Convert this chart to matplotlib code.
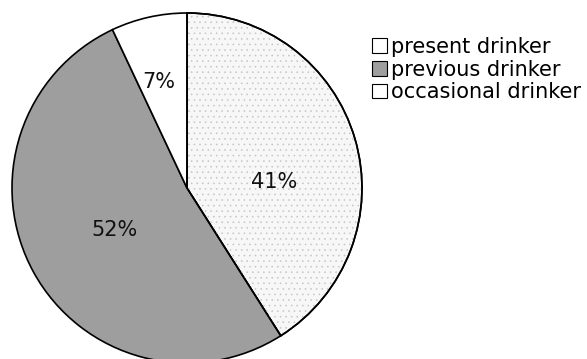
import matplotlib
matplotlib.use("Agg")
import matplotlib.pyplot as plt
from matplotlib.patches import Wedge
import numpy as np

categories = ["present drinker", "previous drinker", "occasional drinker"]
values = [41, 52, 7]
colors = ["#f7f7f7", "#9e9e9e", "#ffffff"]
hatches = ["...", None, None]

plt.rcParams['font.family'] = ['DejaVu Sans']
plt.rcParams['hatch.linewidth'] = 0.4

fig = plt.figure(figsize=(5.87, 3.59), dpi=100)
ax = fig.add_axes([0, 0, 1, 1])

wedges, texts, autotexts = ax.pie(values, colors=colors, startangle=90, counterclock=False,
                                  autopct='%d%%', pctdistance=0.5,
                                  wedgeprops=dict(edgecolor='black', linewidth=1.2),
                                  textprops=dict(fontsize=15, color='#111111'))
# light dotted texture overlay
for w, h in zip(wedges, hatches):
    if h:
        ov = Wedge(w.center, w.r, w.theta1, w.theta2, facecolor='none',
                   edgecolor='#c4c4c4', linewidth=0, hatch=h, zorder=w.get_zorder() + 0.1)
        ax.add_patch(ov)
        ed = Wedge(w.center, w.r, w.theta1, w.theta2, facecolor='none',
                   edgecolor='black', linewidth=1.2, zorder=w.get_zorder() + 0.2)
        ax.add_patch(ed)

# label placement (radius, angle in degrees)
label_pos = [(0.50, 4), (0.48, -150), (0.63, 105)]
for t, (r, a) in zip(autotexts, label_pos):
    t.set_position((r * np.cos(np.radians(a)), r * np.sin(np.radians(a))))
    t.set_zorder(5)

scale = 175.0
cx, cy = 187, 188
ax.set_xlim(-cx / scale, (587 - cx) / scale)
ax.set_ylim(-(359 - cy) / scale, cy / scale)
ax.set_aspect('auto')
ax.axis('off')

handles = [plt.Rectangle((0, 0), 1, 1, facecolor=c, edgecolor='black', linewidth=0.8) for c in ["#ffffff", "#9e9e9e", "#ffffff"]]
leg = ax.legend(handles, categories, loc='upper left', bbox_to_anchor=(372 / 587, 1 - 37 / 359),
                frameon=False, fontsize=15, handlelength=0.7, handleheight=0.7,
                handletextpad=0.2, labelspacing=0.13, borderpad=0, borderaxespad=0)

fig.savefig("out.png", dpi=100)
